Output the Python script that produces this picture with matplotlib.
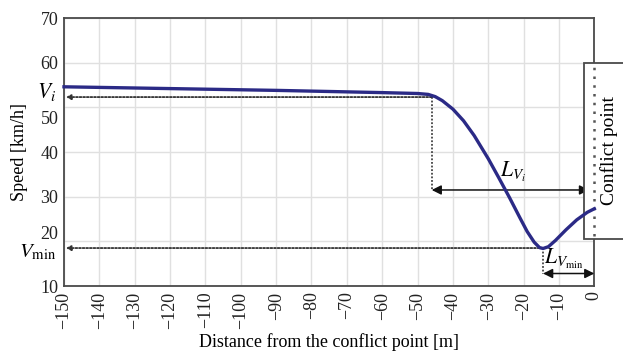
import matplotlib
matplotlib.use("Agg")
import matplotlib.pyplot as plt
from matplotlib.patches import Rectangle
import matplotlib.transforms as mtransforms

# Data
distance = [-150, -120, -90, -60, -50, -47, -45, -43, -40, -37, -34, -30, -27, -24,
            -21, -19, -17, -15.5, -14.5, -13, -11, -8, -5, -2, 0]
speed = [54.6, 54.2, 53.8, 53.3, 53.1, 52.9, 52.4, 51.5, 49.6, 47.0, 43.7, 38.5, 34.2,
         29.8, 25.2, 22.2, 19.8, 18.6, 18.4, 18.8, 20.2, 22.6, 24.8, 26.5, 27.3]

x_ticks = list(range(-150, 1, 10))
y_ticks = [10, 20, 30, 40, 50, 60, 70]

v_i = 52.3
v_i_dist = -46
l_vi_level = 31.5
v_min = 18.5
v_min_dist = -14.5
l_vmin_level = 12.8
box_bottom, box_top = 20.6, 59.9

plt.rcParams['font.family'] = ['Liberation Serif', 'DejaVu Serif']
plt.rcParams['mathtext.fontset'] = 'stix'

fig = plt.figure(figsize=(6.23, 3.56), dpi=100)
ax = fig.add_axes([0.1027, 0.1966, 0.954 - 0.1027, 0.9494 - 0.1966])

ax.set_xlim(-150, 0)
ax.set_ylim(10, 70)
ax.set_xticks(x_ticks)
ax.set_yticks(y_ticks)
ax.set_xticklabels([str(t).replace('-', '\u2212') for t in x_ticks], rotation=90)
ax.grid(True, color='#e0e0e0', linewidth=1.0)
ax.set_axisbelow(True)
for s in ax.spines.values():
    s.set_color('#4a4a4a')
    s.set_linewidth(1.3)
ax.tick_params(length=0, labelsize=13, colors='#222222', pad=4)

# shift the 20 and 50 labels to make room for V labels (as in reference)
for lbl, val in zip(ax.get_yticklabels(), y_ticks):
    if val == 50:
        lbl.set_transform(lbl.get_transform() + mtransforms.ScaledTranslation(0, -10 / 100, fig.dpi_scale_trans))
    if val == 20:
        lbl.set_transform(lbl.get_transform() + mtransforms.ScaledTranslation(0, 9 / 100, fig.dpi_scale_trans))

ax.plot(distance, speed, color='#2b2a86', linewidth=2.4, zorder=9, clip_on=False)

dot = dict(color='#444444', linewidth=1.3, linestyle=(0, (1, 1)))
# Vi dotted guides
ax.annotate('', xy=(-149.5, v_i), xytext=(v_i_dist, v_i),
            arrowprops=dict(arrowstyle='-|>', color='#333333', lw=1.3, linestyle=(0, (1, 1)),
                            shrinkA=0, shrinkB=0, mutation_scale=7))
ax.plot([v_i_dist, v_i_dist], [v_i, l_vi_level], **dot)
ax.annotate('', xy=(v_i_dist, l_vi_level), xytext=(-1.5, l_vi_level),
            arrowprops=dict(arrowstyle='<|-|>', color='#111111', lw=1.1,
                            shrinkA=0, shrinkB=0, mutation_scale=14))
# Vmin dotted guides
ax.annotate('', xy=(-149.5, v_min), xytext=(v_min_dist, v_min),
            arrowprops=dict(arrowstyle='-|>', color='#333333', lw=1.3, linestyle=(0, (1, 1)),
                            shrinkA=0, shrinkB=0, mutation_scale=7))
ax.plot([v_min_dist, v_min_dist], [v_min, l_vmin_level], **dot)
ax.annotate('', xy=(v_min_dist, l_vmin_level), xytext=(0, l_vmin_level),
            arrowprops=dict(arrowstyle='<|-|>', color='#111111', lw=1.1,
                            shrinkA=0, shrinkB=0, mutation_scale=14))

# Labels
ax.text(-152.3, v_i + 1.2, r'$V_i$', fontsize=15.5, ha='right', va='center', clip_on=False)
ax.text(-152.3, v_min - 1.0, r'$V_{\rm min}$', fontsize=15, ha='right', va='center', clip_on=False)
ax.text(-23, 35.5, r'$L_{V_i}$', fontsize=15.5, ha='center', va='center')
ax.text(-8.5, 16.0, r'$L_{V_{\rm min}}$', fontsize=15.5, ha='center', va='center')

# Conflict point box
rect = Rectangle((-2.8, box_bottom), 20, box_top - box_bottom, transform=ax.transData,
                 facecolor='white', edgecolor='#4a4a4a', linewidth=1.3, clip_on=False, zorder=6)
ax.add_patch(rect)
ax.plot([0, 0], [box_bottom + 0.6, box_top - 0.6], color='#555555', linewidth=1.8,
        linestyle=(0, (1, 2.5)), clip_on=False, zorder=7)
ax.text(4.2, (box_bottom + box_top) / 2, 'Conflict point', rotation=90, fontsize=14,
        ha='center', va='center', zorder=8, clip_on=False)

ax.set_ylabel('Speed [km/h]', fontsize=13)
ax.yaxis.set_label_coords(-0.083, 0.5)
ax.set_xlabel('Distance from the conflict point [m]', fontsize=13)
ax.xaxis.set_label_coords(0.5, -0.21)
ax.xaxis.label.set_va('center')
ax.yaxis.label.set_va('center')

fig.savefig('out.png', dpi=100)
